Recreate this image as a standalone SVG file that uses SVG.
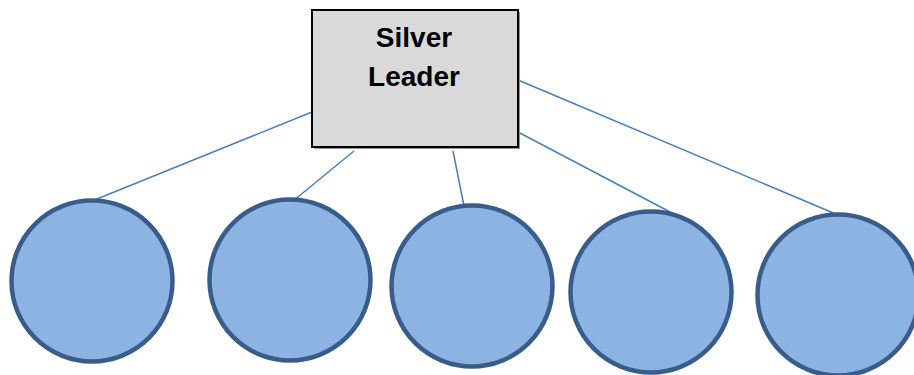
<svg xmlns="http://www.w3.org/2000/svg" width="914" height="375" viewBox="0 0 914 375">
<style>
.conn{stroke:#4a7ebb;stroke-width:1.5;fill:none}
.node{fill:#8db3e2;stroke:#385d8a;stroke-width:4.5}
.lbl{font-family:"Liberation Sans",Arial,sans-serif;font-weight:bold;font-size:28px;fill:#000;text-anchor:middle}
</style>
<rect width="914" height="375" fill="#fff"/>
<g id="connectors">
<line class="conn" x1="312" y1="112" x2="92" y2="201"/>
<line class="conn" x1="354" y1="151" x2="293" y2="201"/>
<line class="conn" x1="453" y1="151" x2="464" y2="206"/>
<line class="conn" x1="518" y1="132" x2="672" y2="213"/>
<line class="conn" x1="518" y1="80" x2="838" y2="215"/>
</g>
<g id="leader">
<rect x="314" y="12" width="206" height="137" fill="#999"/>
<rect x="312" y="10" width="206" height="137" fill="#d9d9d9" stroke="#000" stroke-width="2"/>
<text class="lbl" x="414" y="47">Silver</text>
<text class="lbl" x="414" y="86">Leader</text>
</g>
<g id="n1"><circle class="node" cx="92" cy="281" r="80.5"/></g>
<g id="n2"><circle class="node" cx="290" cy="280" r="80.5"/></g>
<g id="n3"><circle class="node" cx="472" cy="286" r="80.5"/></g>
<g id="n4"><circle class="node" cx="651" cy="292" r="80.5"/></g>
<g id="n5"><circle class="node" cx="838" cy="295" r="80.5"/></g>
</svg>
